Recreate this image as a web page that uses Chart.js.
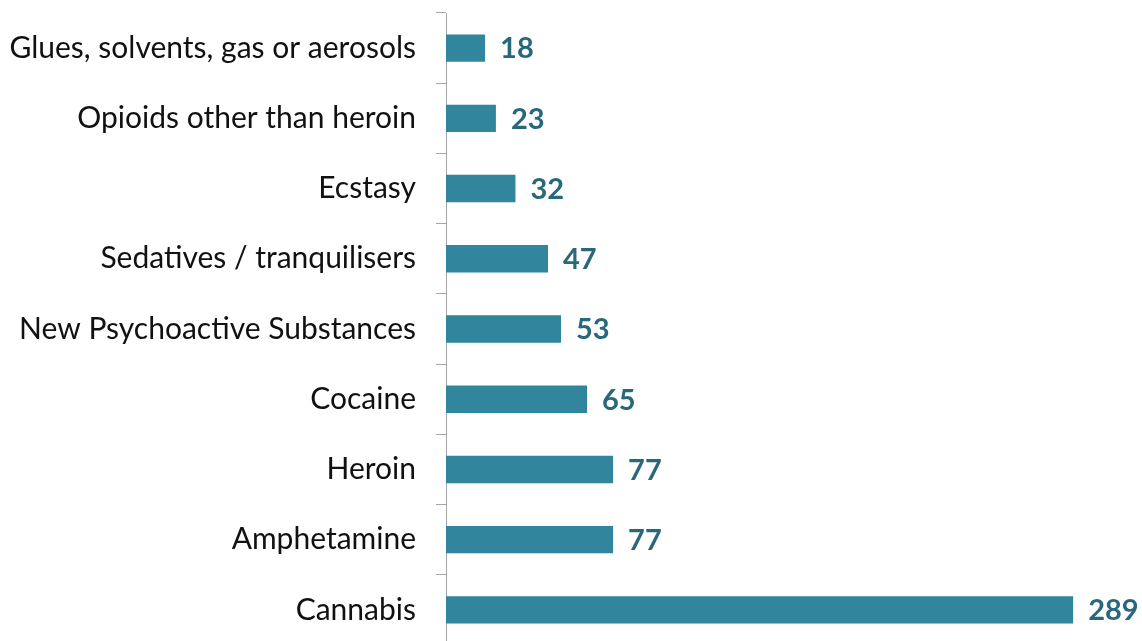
<!DOCTYPE html>
<html>
<head>
<meta charset="utf-8">
<script src="https://cdn.jsdelivr.net/npm/chart.js@4/dist/chart.umd.min.js"></script>
<style>
  html, body { margin: 0; padding: 0; background: #fff; overflow: hidden; }
  #wrap { width: 1142px; height: 660px; position: relative; }
</style>
</head>
<body>
<div id="wrap"><canvas id="drugChart"></canvas></div>
<script>
const DRUGS = ["Glues, solvents, gas or aerosols", "Opioids other than heroin", "Ecstasy",
               "Sedatives / tranquilisers", "New Psychoactive Substances", "Cocaine",
               "Heroin", "Amphetamine", "Cannabis"];
const COUNTS = [18, 23, 32, 47, 53, 65, 77, 77, 289];

const BAR_COLOR = "#31859c";
const VALUE_COLOR = "#28687a";
const LABEL_FONT = "Lato, 'Open Sans', sans-serif";

// writes the count just past the end of each bar
const valueLabels = {
  id: 'valueLabels',
  afterDatasetsDraw(chart) {
    const ctx = chart.ctx;
    const meta = chart.getDatasetMeta(0);
    ctx.save();
    ctx.font = "bold 29px " + LABEL_FONT;
    ctx.fillStyle = VALUE_COLOR;
    ctx.textAlign = "left";
    ctx.textBaseline = "middle";
    meta.data.forEach((bar, i) => {
      ctx.fillText(COUNTS[i], bar.x + 15, bar.y + 1);
    });
    ctx.restore();
  }
};

new Chart(document.getElementById("drugChart").getContext("2d"), {
  type: "bar",
  data: {
    labels: DRUGS,
    datasets: [{
      data: COUNTS,
      backgroundColor: BAR_COLOR,
      borderWidth: 0,
      categoryPercentage: 1.0,
      barPercentage: 0.39
    }]
  },
  options: {
    indexAxis: "y",
    responsive: true,
    maintainAspectRatio: false,
    animation: false,
    layout: { padding: { top: 13, bottom: 15, left: 0, right: 45 } },
    plugins: {
      legend: { display: false },
      tooltip: { enabled: false }
    },
    scales: {
      x: {
        display: false,
        min: 0,
        max: 300
      },
      y: {
        afterFit(scale) {
          scale.width = 446;
          // labels sit between ticks, no extra room needed above/below
          scale.paddingTop = 0;
          scale.paddingBottom = 0;
        },
        border: { display: true, color: "#a6a6a6", width: 1 },
        grid: {
          drawOnChartArea: false,
          drawTicks: true,
          tickLength: 10,
          color: "#a6a6a6",
          offset: true
        },
        ticks: {
          padding: 20,
          color: "#111",
          font: { family: LABEL_FONT, size: 30 }
        }
      }
    }
  },
  plugins: [valueLabels]
});
</script>
</body>
</html>
